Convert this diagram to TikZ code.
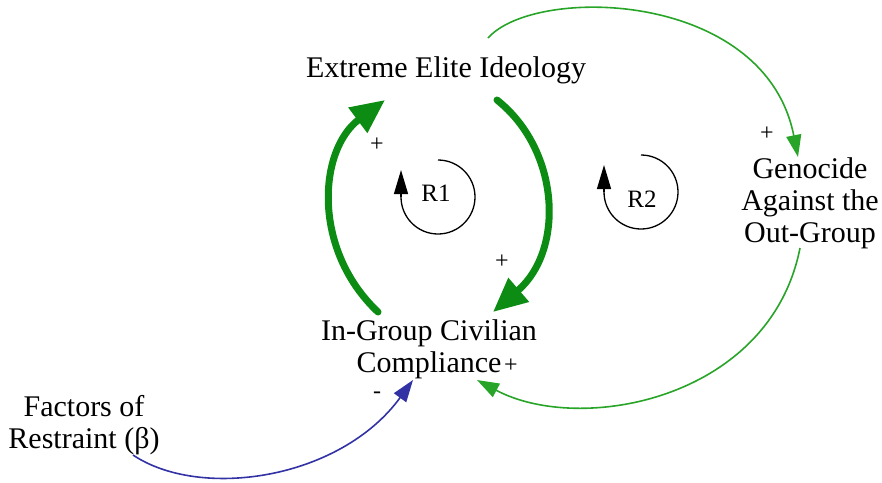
\documentclass[tikz,border=0pt]{standalone}
\usepackage{fontspec}
\setmainfont{Liberation Serif}
\newfontfamily\diagserif{Liberation Serif}
\usetikzlibrary{arrows.meta,calc}
\definecolor{thickgreen}{RGB}{12,140,18}
\definecolor{thingreen}{RGB}{40,165,40}
\definecolor{linkblue}{RGB}{50,50,165}
\begin{document}
\begin{tikzpicture}[x=1pt,y=-1pt,
  var/.style={font=\diagserif\fontsize{30}{32}\selectfont, align=center, inner sep=0pt},
  pol/.style={font=\diagserif\fontsize{24}{26}\selectfont, inner sep=0pt,
     text height=1.4ex, text depth=0pt},
  looplbl/.style={font=\diagserif\fontsize{25}{27}\selectfont, inner sep=0pt},
  thicklink/.style={draw=thickgreen, line width=7pt, line cap=round,
     -{Triangle[length=34pt,width=30pt]}},
  thinlink/.style={draw=thingreen, line width=1.6pt,
     -{Triangle[length=22pt,width=15pt]}},
  bluelink/.style={draw=linkblue, line width=1.6pt,
     -{Triangle[length=22pt,width=15pt]}},
  loopline/.style={draw=black, line width=1.3pt}
]
\useasboundingbox (0,0) rectangle (882,482);

% variables
\node[var, anchor=base] (eei) at (446,77) {Extreme Elite Ideology};
\node[var] (icc) at (429,349) {In-Group Civilian\\Compliance};
\node[var] (gen) at (810,203) {Genocide\\Against the\\Out-Group};
\node[var] (for) at (84,425) {Factors of\\Restraint (β)};

% connector endpoints
\coordinate (l1s) at (378,312);
\coordinate (l1e) at (385,100);
\coordinate (r1s) at (497,100);
\coordinate (r1e) at (493,312);
\coordinate (ts) at (488,38);
\coordinate (te) at (798,157);
\coordinate (bs) at (800,248);
\coordinate (be) at (477,380);
\coordinate (fs) at (133,455);
\coordinate (fe) at (413,380);

% thick R1 links
\draw[thicklink] (l1s) .. controls (312,250) and (318,150) .. (l1e);
\draw[thicklink] (r1s) .. controls (560,150) and (565,250) .. (r1e);

% thin R2 links
\draw[thinlink] (ts) .. controls (535,-15) and (765,-10) .. (te);
\draw[thinlink] (bs) .. controls (770,400) and (580,435) .. (be);

% restraint link
\draw[bluelink] (fs) .. controls (200,500) and (340,480) .. (fe);

% polarities
\node[pol] (p1) at (377,148) {+};
\node[pol] (p2) at (502,265) {+};
\node[pol] (p3) at (767,137) {+};
\node[pol] (p4) at (511,369) {+};
\node[pol] (p5) at (377,395) {-};

% loop markers
\coordinate (c1) at (438,197);
\draw[loopline] ($(c1)+(0,-37)$) arc[start angle=-90, end angle=180, radius=37];
\draw[loopline, -{Triangle[length=24pt,width=14pt]}] ($(c1)+(-37,0)$) -- ++(0,-27);
\node[looplbl] (r1) at (436,193) {R1};

\coordinate (c2) at (641,192);
\draw[loopline] ($(c2)+(0,-37)$) arc[start angle=-90, end angle=180, radius=37];
\draw[loopline, -{Triangle[length=24pt,width=14pt]}] ($(c2)+(-37,0)$) -- ++(0,-27);
\node[looplbl] (r2) at (642,199) {R2};
\end{tikzpicture}
\end{document}
